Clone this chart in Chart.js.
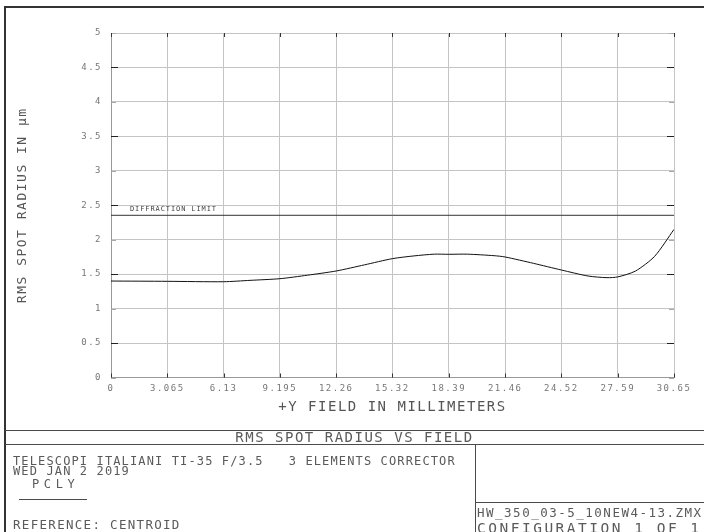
<!DOCTYPE html>
<html>
<head>
<meta charset="utf-8">
<title>RMS spot radius vs field</title>
<script src="https://cdn.jsdelivr.net/npm/chart.js@4.4.1/dist/chart.umd.min.js"></script>
<style>
  html, body { margin: 0; padding: 0; background: #fff; }
  #wrap { position: relative; width: 704px; height: 532px; overflow: hidden; }
  #spotChart { position: absolute; left: 0; top: 0; }
  .ln { position: absolute; background: #4a4a4a; }
  .t { position: absolute; font-family: 'DejaVu Sans Mono', monospace; color: #5a5a5a; white-space: pre; line-height: 1; }
</style>
</head>
<body>
<div id="wrap">
  <canvas id="spotChart" width="704" height="532"></canvas>

  <!-- outer frame + title block -->
  <div class="ln" style="left:5px;top:6px;width:699px;height:2px;background:#333"></div>
  <div class="ln" style="left:4px;top:6px;width:2px;height:526px;background:#333"></div>
  <div class="ln" style="left:5px;top:430px;width:699px;height:1px"></div>
  <div class="ln" style="left:5px;top:444px;width:699px;height:1px"></div>
  <div class="ln" style="left:475px;top:444px;width:1px;height:88px"></div>
  <div class="ln" style="left:475px;top:502px;width:229px;height:1px"></div>
  <div class="ln" style="left:19px;top:499px;width:68px;height:1px"></div>

  <div class="t" style="left:0;width:709px;text-align:center;top:430px;font-size:14px;letter-spacing:1.5px">RMS SPOT RADIUS VS FIELD</div>
  <div class="t" style="left:13px;top:455px;font-size:12px;letter-spacing:1.13px">TELESCOPI ITALIANI TI-35 F/3.5   3 ELEMENTS CORRECTOR</div>
  <div class="t" style="left:13px;top:465px;font-size:12px;letter-spacing:1.13px">WED JAN 2 2019</div>
  <div class="t" style="left:32px;top:478px;font-size:12px;letter-spacing:4.6px">PCLY</div>
  <div class="t" style="left:13px;top:519px;font-size:12.5px;letter-spacing:1.3px">REFERENCE: CENTROID</div>
  <div class="t" style="left:477px;top:507px;font-size:12.5px;letter-spacing:1.5px">HW_350_03-5_10NEW4-13.ZMX</div>
  <div class="t" style="left:477px;top:521px;font-size:14.5px;letter-spacing:2.5px">CONFIGURATION 1 OF 1</div>
</div>

<script>
// field positions (mm) and RMS spot radius (µm)
const fieldMm   = [0, 3.065, 6.13, 7.57, 9.195, 10.7, 12.26, 13.8, 15.32, 16.5, 17.6, 18.39, 19.4, 20.86, 21.46, 23.0, 24.52, 25.97, 27.0, 27.59, 28.56, 29.6, 30.65];
const rmsRadius = [1.40, 1.396, 1.39, 1.41, 1.434, 1.485, 1.546, 1.635, 1.725, 1.765, 1.79, 1.788, 1.79, 1.768, 1.749, 1.657, 1.56, 1.473, 1.449, 1.46, 1.546, 1.76, 2.15];

const diffLimit = 2.354;
const diffLabel = "DIFFRACTION LIMIT";

const xTickValues = [0, 3.065, 6.13, 9.195, 12.26, 15.32, 18.39, 21.46, 24.52, 27.59, 30.65];
const xTickLabels = ["0", "3.065", "6.13", "9.195", "12.26", "15.32", "18.39", "21.46", "24.52", "27.59", "30.65"];
const yTickValues = [0, 0.5, 1, 1.5, 2, 2.5, 3, 3.5, 4, 4.5, 5];
const yTickLabels = ["0", "0.5", "1", "1.5", "2", "2.5", "3", "3.5", "4", "4.5", "5"];

const xTitle = "+Y FIELD IN MILLIMETERS";
const yTitle = "RMS SPOT RADIUS IN µm";

const MONO = "'DejaVu Sans Mono', monospace";

// the plotter font is wide, so space the canvas text out a bit
const spacing = {
  id: 'spacing',
  beforeLayout(chart) { chart.ctx.letterSpacing = '1.5px'; },
  beforeDraw(chart) { chart.ctx.letterSpacing = '1.5px'; }
};

// short inward tick marks + diffraction limit caption
const extras = {
  id: 'extras',
  afterDraw(chart) {
    const { ctx, chartArea: a, scales: { x, y } } = chart;
    ctx.save();
    ctx.lineWidth = 1;
    const seg = (x1, y1, x2, y2) => { ctx.beginPath(); ctx.moveTo(x1, y1); ctx.lineTo(x2, y2); ctx.stroke(); };

    y.ticks.forEach(t => {
      const py = Math.round(y.getPixelForValue(t.value)) + 0.5;
      const half = Math.round(t.value * 2) % 2 === 1;
      ctx.strokeStyle = half ? '#222' : '#aaa';
      const len = half ? 7 : 5;
      seg(a.left, py, a.left + len, py);
      seg(a.right - len, py, a.right, py);
    });
    x.ticks.forEach(t => {
      const px = Math.round(x.getPixelForValue(t.value)) + 0.5;
      ctx.strokeStyle = '#333';
      seg(px, a.top, px, a.top + 4);
      seg(px, a.bottom - 4, px, a.bottom);
    });

    ctx.letterSpacing = '0.9px';
    ctx.font = "7px " + MONO;
    ctx.fillStyle = '#444';
    ctx.textBaseline = 'middle';
    ctx.fillText(diffLabel, x.getPixelForValue(0) + 19, y.getPixelForValue(diffLimit) - 6);
    ctx.restore();
  }
};

new Chart(document.getElementById("spotChart"), {
  type: 'line',
  data: {
    datasets: [
      {
        label: 'RMS radius',
        data: fieldMm.map((f, i) => ({ x: f, y: rmsRadius[i] })),
        borderColor: '#111',
        borderWidth: 1,
        pointRadius: 0,
        tension: 0.25
      },
      {
        label: 'Diffraction limit',
        data: [{ x: 0, y: diffLimit }, { x: 30.65, y: diffLimit }],
        borderColor: '#333',
        borderWidth: 1,
        pointRadius: 0
      }
    ]
  },
  options: {
    responsive: false,
    animation: false,
    layout: { padding: { top: 33, right: 30, left: 0, bottom: 0 } },
    plugins: { legend: { display: false }, tooltip: { enabled: false } },
    scales: {
      x: {
        type: 'linear',
        min: 0,
        max: 30.65,
        afterBuildTicks: s => { s.ticks = xTickValues.map(v => ({ value: v })); },
        afterFit: s => { s.height = 154.5; },
        grid: { color: '#c4c4c4', drawTicks: false },
        border: { color: '#999' },
        ticks: {
          padding: 6,
          maxRotation: 0,
          autoSkip: false,
          color: '#777',
          font: { family: MONO, size: 9 },
          callback: (v, i) => xTickLabels[i]
        },
        title: {
          display: true,
          text: xTitle,
          color: '#555',
          font: { family: MONO, size: 14 },
          padding: { top: 0, bottom: 116 }
        }
      },
      y: {
        min: 0,
        max: 5,
        afterBuildTicks: s => { s.ticks = yTickValues.map(v => ({ value: v })); },
        afterFit: s => { s.width = 111; },
        grid: { color: '#c4c4c4', drawTicks: false },
        border: { color: '#999' },
        ticks: {
          padding: 9,
          color: '#777',
          font: { family: MONO, size: 9 },
          callback: (v, i) => yTickLabels[i]
        },
        title: {
          display: true,
          text: yTitle,
          color: '#555',
          font: { family: MONO, size: 13 },
          padding: { top: 15, bottom: 0 }
        }
      }
    }
  },
  plugins: [spacing, extras]
});
</script>
</body>
</html>
